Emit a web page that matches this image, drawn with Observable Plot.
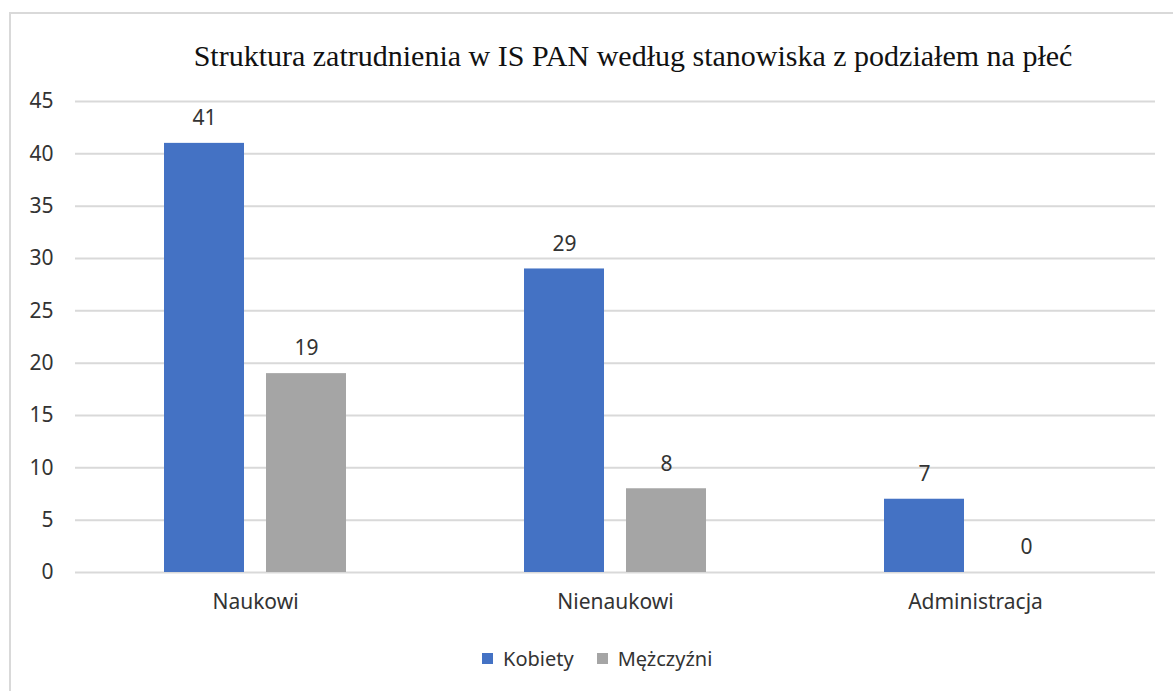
<!DOCTYPE html>
<html><head><meta charset="utf-8">
<script src="https://cdn.jsdelivr.net/npm/d3@7"></script>
<script src="https://cdn.jsdelivr.net/npm/@observablehq/plot@0.6"></script>
<style>
html,body{margin:0;padding:0;background:#fff;}
#wrap{position:relative;width:1173px;height:691px;overflow:hidden;}
#border{position:absolute;left:9px;top:12px;width:1180px;height:700px;border-left:2px solid #d9d9d9;border-top:2px solid #d9d9d9;box-sizing:border-box;}
#title{position:absolute;top:39px;left:0;width:1266px;text-align:center;font-family:"Liberation Serif","Times New Roman",serif;font-size:30px;color:#111;white-space:nowrap;}
#chart{position:absolute;left:0;top:0;}
#legend{position:absolute;top:645px;left:482px;font-family:"Noto Sans",sans-serif;font-size:20px;color:#333;display:flex;align-items:center;white-space:nowrap;}
#legend .sw{display:inline-block;width:11px;height:11px;margin-right:10px;}
#legend .item{display:flex;align-items:center;margin-right:23px;}
</style></head>
<body>
<div id="wrap">
<div id="border"></div>
<div id="title"><span id="ttext">Struktura zatrudnienia w IS PAN według stanowiska z podziałem na płeć</span></div>
<div id="chart"></div>
<div id="legend"></div>
</div>
<script>
const categories = ["Naukowi", "Nienaukowi", "Administracja"];
const series = ["Kobiety", "Mężczyźni"];
const kobiety = [41, 29, 7];
const mezczyzni = [19, 8, 0];
const colors = ["#4472c4", "#a5a5a5"];
const yTicks = [0, 5, 10, 15, 20, 25, 30, 35, 40, 45];

const data = [];
categories.forEach((c, i) => {
  data.push({category: c, sex: series[0], value: kobiety[i]});
  data.push({category: c, sex: series[1], value: mezczyzni[i]});
});

const font = '"Noto Sans", sans-serif';
const plot = Plot.plot({
  width: 1173,
  height: 691,
  marginLeft: 75,
  marginRight: 18,
  marginTop: 101,
  marginBottom: 119,
  style: {fontFamily: font, fontSize: "21px", color: "#333", background: "transparent"},
  fx: {domain: categories, padding: 0, label: null, axis: "bottom", tickSize: 0, tickPadding: 22},
  x: {domain: series, paddingInner: 0.22, paddingOuter: 0.86, axis: null},
  y: {domain: [0, 45], ticks: yTicks, label: null, tickSize: 0, tickPadding: 22, grid: false},
  color: {domain: series, range: colors},
  marks: [
    Plot.ruleY(yTicks, {stroke: "#d9d9d9", strokeWidth: 2}),
    Plot.barY(data, {fx: "category", x: "sex", y: "value", fill: "sex"}),
    Plot.text(data, {fx: "category", x: "sex", y: "value", text: d => String(d.value), dy: -25, fill: "#333", fontSize: 21})
  ]
});
document.getElementById("chart").appendChild(plot);

const legend = document.getElementById("legend");
series.forEach((s, i) => {
  const it = document.createElement("span");
  it.className = "item";
  it.innerHTML = `<span class="sw" style="background:${colors[i]}"></span>${s}`;
  legend.appendChild(it);
});
</script>
</body></html>
